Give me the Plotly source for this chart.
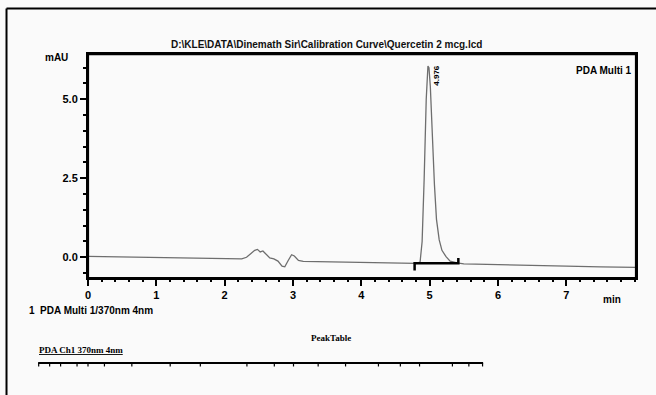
import plotly.graph_objects as go

# ---- data ----
time_min = [0.0, 0.5, 1.0, 1.5, 2.0, 2.25, 2.32, 2.38, 2.44, 2.48, 2.52, 2.56, 2.60,
            2.66, 2.72, 2.78, 2.84, 2.88, 2.93, 2.98, 3.02, 3.08, 3.15, 3.5, 4.0,
            4.5, 4.8, 4.86, 4.89, 4.92, 4.95, 4.975, 4.99, 5.01, 5.04, 5.07, 5.10,
            5.14, 5.18, 5.24, 5.30, 5.40, 5.5, 6.0, 6.5, 7.0, 7.5, 8.02]
signal_mau = [0.03, 0.01, -0.01, -0.03, -0.04, -0.05, 0.0, 0.12, 0.22, 0.25, 0.17, 0.20, 0.10,
              -0.02, -0.05, -0.12, -0.28, -0.30, -0.10, 0.08, 0.04, -0.10, -0.13, -0.14, -0.15,
              -0.17, -0.19, -0.15, 0.5, 2.5, 5.0, 6.05, 6.0, 5.4, 3.8, 2.3, 1.2,
              0.55, 0.22, 0.02, -0.12, -0.18, -0.21, -0.24, -0.26, -0.28, -0.30, -0.32]

peak_rt = 4.976
peak_label = "4.976"
baseline_x = [4.78, 4.78, 4.78, 5.42, 5.42]
baseline_y = [-0.42, -0.19, -0.19, -0.19, -0.02]

x_ticks = [0, 1, 2, 3, 4, 5, 6, 7]
x_ticklabels = ["0", "1", "2", "3", "4", "5", "6", "7"]
x_minor_ticks = [i / 5 for i in range(0, 41)]
y_ticks = [0.0, 2.5, 5.0]
y_ticklabels = ["0.0", "2.5", "5.0"]
y_minor_ticks = [-0.5, 0.0, 0.5, 1.0, 1.5, 2.0, 2.5, 3.0, 3.5, 4.0, 4.5, 5.0, 5.5, 6.0]

title_text = "D:\\KLE\\DATA\\Dinemath Sir\\Calibration Curve\\Quercetin 2 mcg.lcd"
channel_text = "PDA Multi 1"
legend_text = "1  PDA Multi 1/370nm 4nm"

X_RANGE = [0, 8.02]
Y_RANGE = [-0.655, 6.43]

fig = go.Figure()
fig.add_trace(go.Scatter(x=time_min, y=signal_mau, mode="lines",
                         line=dict(color="#6e6e6e", width=1.3), hoverinfo="skip",
                         showlegend=False))
fig.add_trace(go.Scatter(x=baseline_x, y=baseline_y, mode="lines",
                         line=dict(color="black", width=2.5), hoverinfo="skip",
                         showlegend=False))

sans = "Liberation Sans, Arial"
serif = "Liberation Serif, Times New Roman"
font_ax = dict(family=sans, size=11, color="black")

fig.update_layout(
    width=656, height=395,
    margin=dict(l=88, r=20, t=54, b=117),
    paper_bgcolor="#fafafa", plot_bgcolor="#fafafa",
    showlegend=False,
    xaxis=dict(range=X_RANGE, tickvals=x_ticks,
               ticktext=["<b>%s</b>" % t for t in x_ticklabels],
               ticks="outside", ticklen=6, tickwidth=1.5, tickcolor="black",
               showgrid=False, zeroline=False, showline=True, linecolor="black",
               linewidth=2, mirror=True, tickfont=font_ax),
    yaxis=dict(range=Y_RANGE, tickvals=y_ticks,
               ticktext=["<b>%s</b>" % t for t in y_ticklabels],
               ticks="outside", ticklen=6, tickwidth=1.5, tickcolor="black",
               showgrid=False, zeroline=False, showline=True, linecolor="black",
               linewidth=2, mirror=True, tickfont=font_ax),
    xaxis2=dict(range=X_RANGE, overlaying="x", side="bottom", anchor="y",
                tickvals=x_minor_ticks, ticktext=[""] * len(x_minor_ticks),
                ticks="outside", ticklen=3, tickwidth=1.5, tickcolor="black",
                showgrid=False, zeroline=False, showline=False),
    yaxis2=dict(range=Y_RANGE, overlaying="y", side="left", anchor="x",
                tickvals=y_minor_ticks, ticktext=[""] * len(y_minor_ticks),
                ticks="outside", ticklen=4, tickwidth=1.5, tickcolor="black",
                showgrid=False, zeroline=False, showline=False),
    # unit axes used only for the plot frame
    xaxis3=dict(range=[0, 1], overlaying="x", anchor="y3", visible=False,
                fixedrange=True),
    yaxis3=dict(range=[0, 1], overlaying="y", anchor="x3", visible=False,
                fixedrange=True),
)
fig.add_trace(go.Scatter(x=[X_RANGE[0]], y=[Y_RANGE[0]], xaxis="x2", yaxis="y2",
                         mode="markers", marker=dict(opacity=0), hoverinfo="skip",
                         showlegend=False))
# plot frame
fig.add_trace(go.Scatter(x=[0, 0, 1, 1, 0], y=[0, 1, 1, 0, 0], xaxis="x3", yaxis="y3",
                         mode="lines", line=dict(color="black", width=2.2),
                         cliponaxis=False, hoverinfo="skip", showlegend=False))

ann = []
ann.append(dict(text="<b>%s</b>" % title_text, x=0.436, y=1.076, xref="paper",
                yref="paper", showarrow=False,
                font=dict(family=sans, size=10, color="#111")))
ann.append(dict(text="<b>mAU</b>", x=-0.082, y=1.018, xref="paper", yref="paper",
                showarrow=False, font=dict(family=sans, size=10, color="black")))
ann.append(dict(text="<b>%s</b>" % channel_text, x=0.996, y=0.962, xref="paper",
                yref="paper", xanchor="right", showarrow=False,
                font=dict(family=sans, size=10, color="black")))
ann.append(dict(text="<b>%s</b>" % peak_label, x=peak_rt + 0.12, y=5.75, xref="x",
                yref="y", textangle=-90, showarrow=False,
                font=dict(family=sans, size=8, color="black")))
ann.append(dict(text="<b>min</b>", x=0.977, y=-0.129, xref="paper", yref="paper",
                showarrow=False, font=dict(family=sans, size=10, color="black")))
ann.append(dict(text="<b>%s</b>" % legend_text, x=-0.111, y=-0.179, xref="paper",
                yref="paper", xanchor="left", showarrow=False,
                font=dict(family=sans, size=10, color="black")))
ann.append(dict(text="<b>PeakTable</b>", x=0.443, y=-0.299, xref="paper", yref="paper",
                showarrow=False, font=dict(family=serif, size=9, color="black")))
ann.append(dict(text="<b><u>PDA Ch1 370nm 4nm</u></b>", x=-0.093, y=-0.352,
                xref="paper", yref="paper", xanchor="left", showarrow=False,
                font=dict(family=serif, size=9, color="black")))
fig.update_layout(annotations=ann)

shapes = []
shapes.append(dict(type="line", xref="paper", yref="paper", x0=0, x1=1,
                   y0=1.0, y1=1.0, line=dict(color="black", width=2.5)))
shapes.append(dict(type="line", xref="paper", yref="paper", x0=-0.1487, x1=-0.1487,
                   y0=1.203, y1=-0.55, line=dict(color="black", width=2)))
shapes.append(dict(type="line", xref="paper", yref="paper", x0=-0.1487, x1=1.04,
                   y0=1.203, y1=1.203, line=dict(color="black", width=2)))
shapes.append(dict(type="line", xref="paper", yref="paper", x0=-0.091, x1=0.721,
                   y0=-0.379, y1=-0.379, line=dict(color="black", width=2)))
for px in [-0.09, -0.07, -0.05, -0.02, 0.0, 0.03, 0.08, 0.15, 0.205, 0.29, 0.34,
           0.375, 0.42, 0.47, 0.53, 0.57, 0.605, 0.665, 0.695, 0.72]:
    shapes.append(dict(type="line", xref="paper", yref="paper", x0=px, x1=px,
                       y0=-0.379, y1=-0.395, line=dict(color="black", width=1.2)))
fig.update_layout(shapes=shapes)

fig.write_html("out.html")
